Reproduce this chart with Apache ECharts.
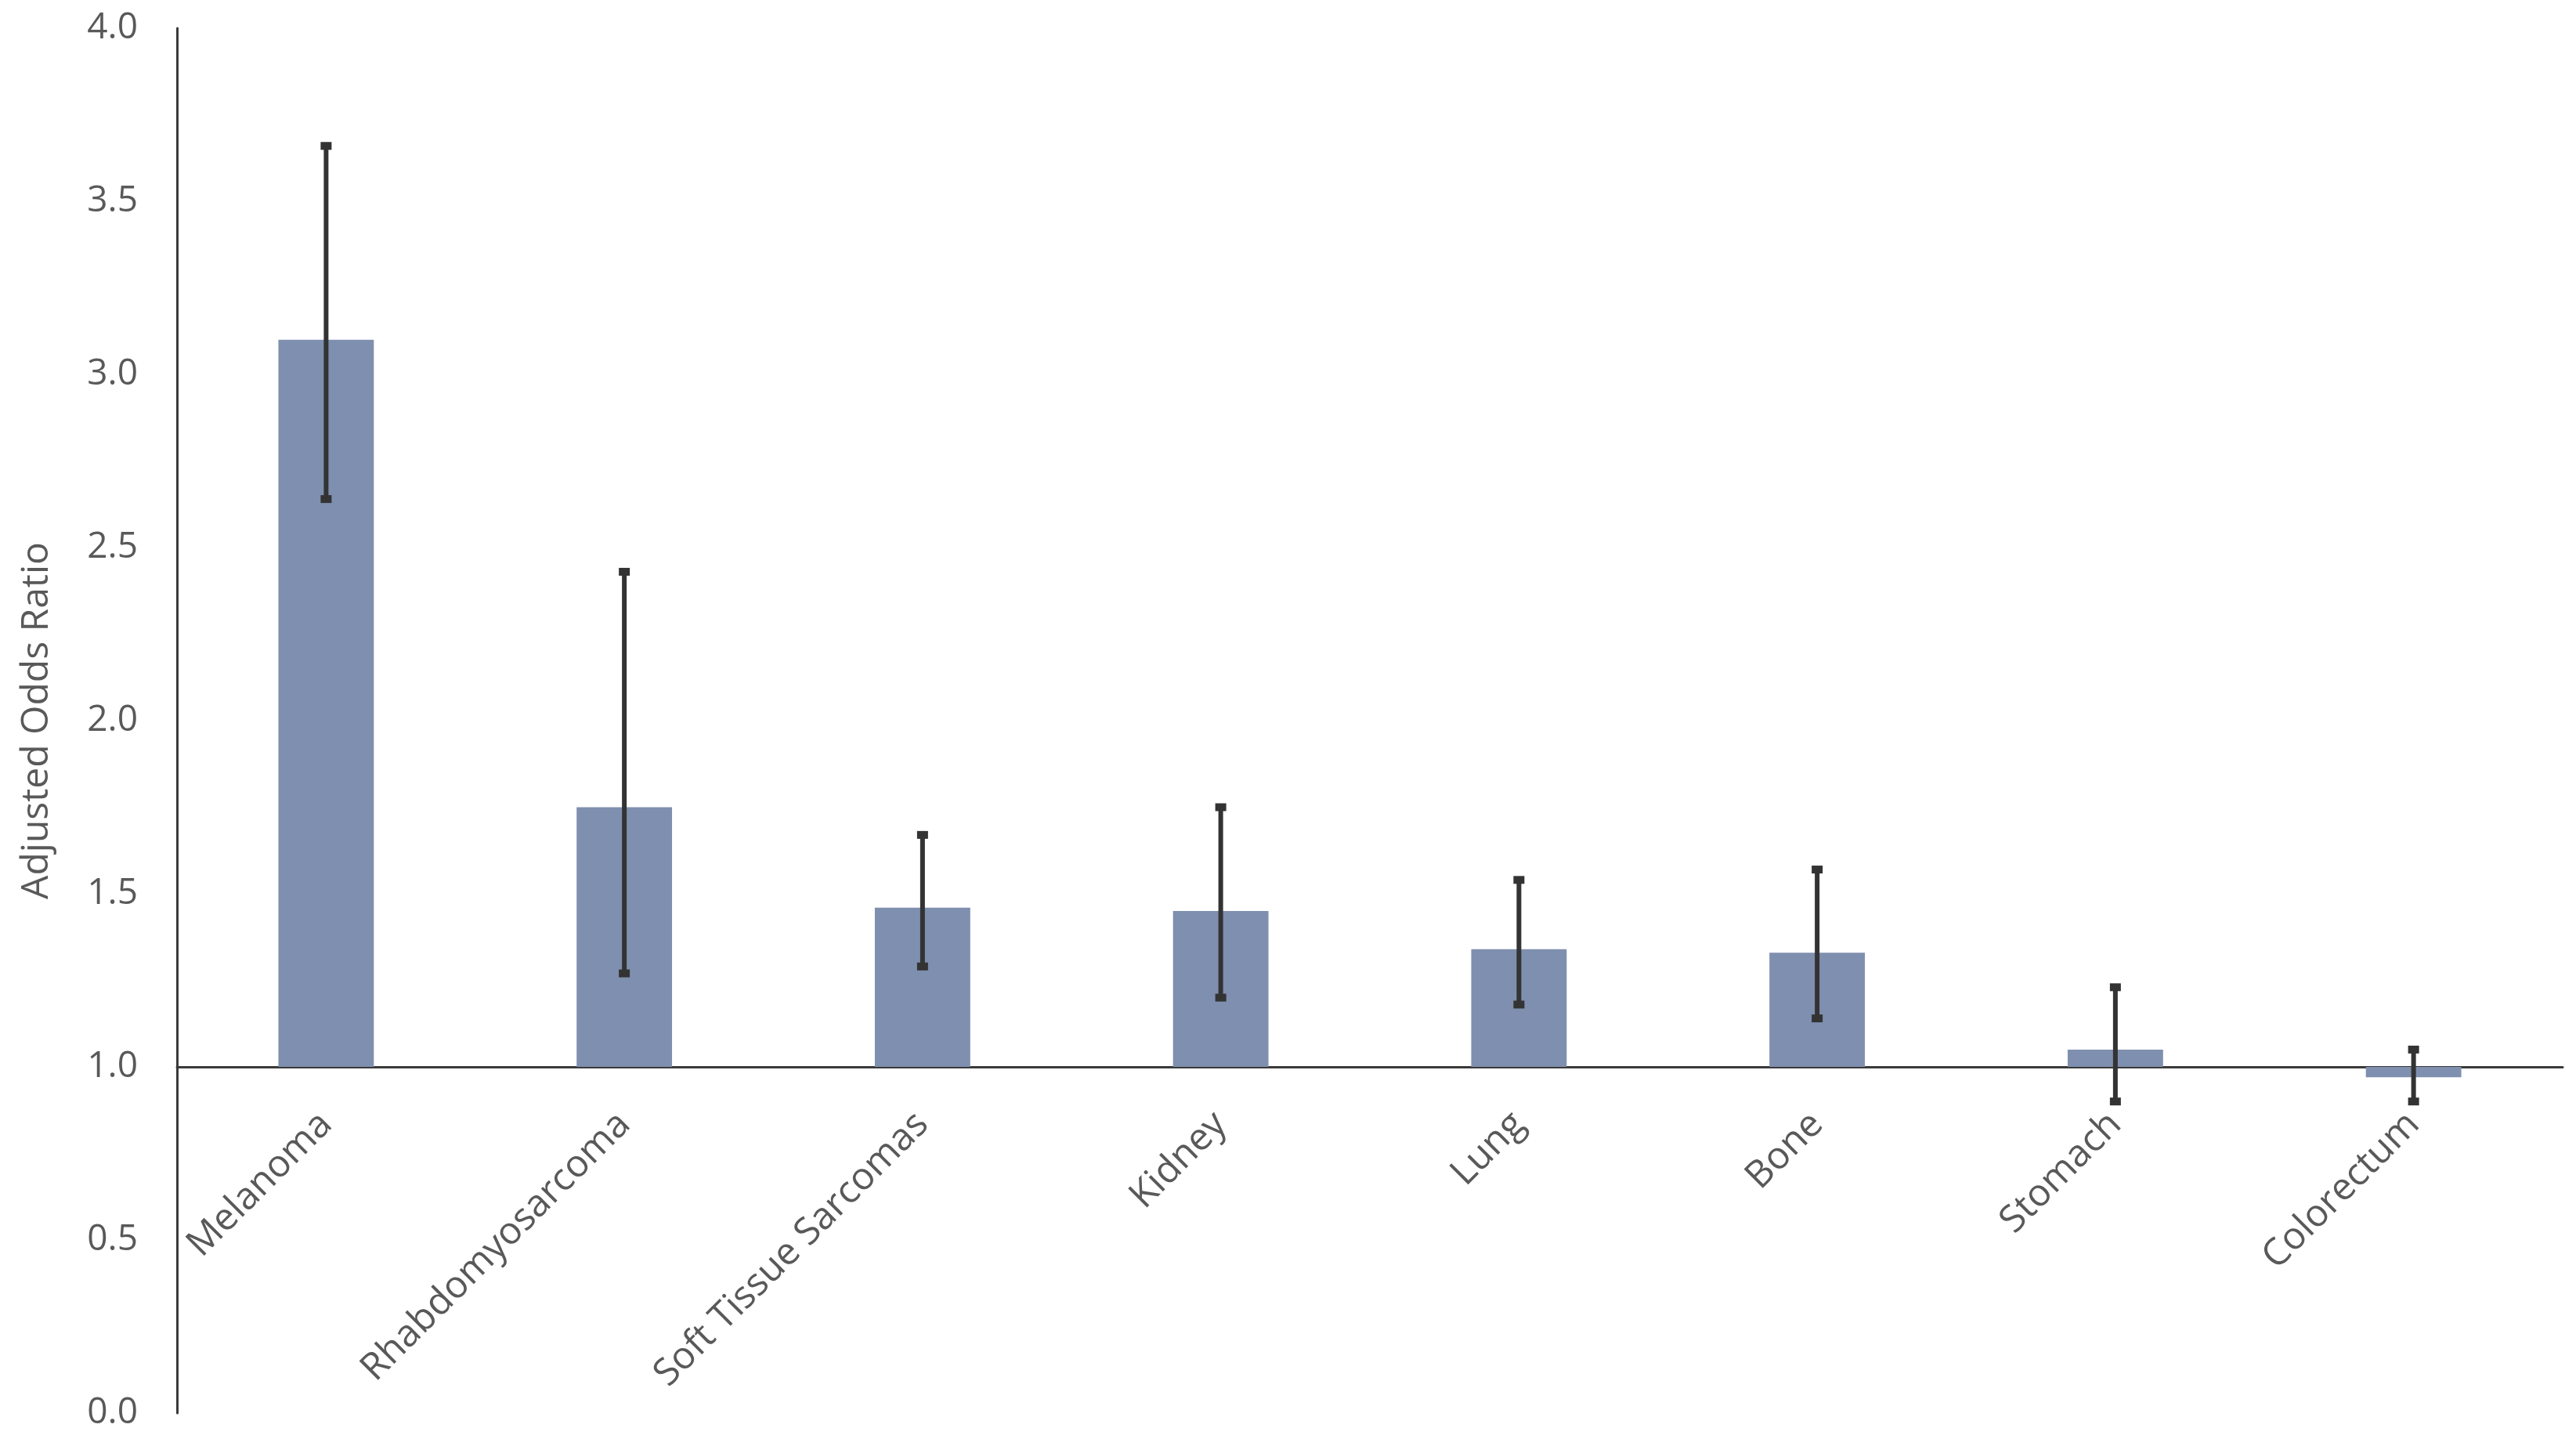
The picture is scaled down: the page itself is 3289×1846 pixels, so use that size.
<!DOCTYPE html>
<html>
<head>
<meta charset="utf-8">
<script src="https://cdn.jsdelivr.net/npm/echarts@6/dist/echarts.min.js"></script>
<style>
html,body{margin:0;padding:0;background:#fff;}
#chart{width:3289px;height:1846px;}
</style>
</head>
<body>
<div id="chart"></div>
<script>
// Data (odds ratios)
var categories = ['Melanoma', 'Rhabdomyosarcoma', 'Soft Tissue Sarcomas', 'Kidney', 'Lung', 'Bone', 'Stomach', 'Colorectum'];
var oddsRatio = [3.10, 1.75, 1.46, 1.45, 1.34, 1.33, 1.05, 0.97];
var ciLow = [2.64, 1.27, 1.29, 1.20, 1.18, 1.14, 0.90, 0.90];
var ciHigh = [3.66, 2.43, 1.67, 1.75, 1.54, 1.57, 1.23, 1.05];
var refValue = 1.0; // bars drawn from OR = 1
var yMin = 0, yMax = 4, yStep = 0.5;

var gridTop = 36, gridBottom = 42, H = 1846;
var gridH = H - gridTop - gridBottom;
var xAxisOffset = -gridH * (refValue - yMin) / (yMax - yMin);

var chart = echarts.init(document.getElementById('chart'));
var textColor = '#595959';
var font = '"Open Sans", "Noto Sans", sans-serif';

// stacked bars: transparent base up to min(v, ref), visible part spans ref..v
var baseData = oddsRatio.map(function (v) { return Math.min(v, refValue); });
var visData = oddsRatio.map(function (v) { return +Math.abs(v - refValue).toFixed(4); });
var errData = categories.map(function (c, i) { return [i, ciLow[i], ciHigh[i]]; });

chart.setOption({
  animation: false,
  backgroundColor: '#ffffff',
  grid: { left: 226, right: 17, top: gridTop, bottom: gridBottom, containLabel: false, outerBoundsMode: 'none' },
  xAxis: {
    type: 'category',
    data: categories,
    position: 'bottom',
    offset: xAxisOffset,
    axisLine: { onZero: false, lineStyle: { color: '#3a3a3a', width: 3 } },
    axisTick: { show: false },
    axisLabel: {
      rotate: 45,
      color: textColor,
      fontFamily: font,
      fontSize: 48,
      margin: 66,
      interval: 0
    }
  },
  yAxis: {
    type: 'value',
    min: yMin,
    max: yMax,
    interval: yStep,
    name: 'Adjusted Odds Ratio',
    nameLocation: 'middle',
    nameGap: 155,
    nameTextStyle: { color: textColor, fontFamily: font, fontSize: 48 },
    axisLine: { show: true, onZero: false, lineStyle: { color: '#3a3a3a', width: 3 } },
    axisTick: { show: false },
    splitLine: { show: false },
    axisLabel: {
      color: textColor,
      fontFamily: font,
      fontSize: 46,
      margin: 50,
      formatter: function (v) { return v.toFixed(1); }
    }
  },
  series: [
    {
      type: 'bar',
      stack: 'or',
      data: baseData,
      barWidth: '32%',
      itemStyle: { color: 'rgba(0,0,0,0)' },
      silent: true
    },
    {
      type: 'bar',
      stack: 'or',
      data: visData,
      barWidth: '32%',
      itemStyle: { color: '#7F8FAF' }
    },
    {
      type: 'custom',
      data: errData,
      z: 10,
      renderItem: function (params, api) {
        var x = api.value(0);
        var lo = api.coord([x, api.value(1)]);
        var hi = api.coord([x, api.value(2)]);
        var capW = 14, capH = 10;
        var style = { fill: '#333333' };
        return {
          type: 'group',
          children: [
            { type: 'line', shape: { x1: lo[0], y1: lo[1], x2: hi[0], y2: hi[1] }, style: { stroke: '#333333', lineWidth: 6 } },
            { type: 'rect', shape: { x: hi[0] - capW / 2, y: hi[1] - capH / 2, width: capW, height: capH }, style: style },
            { type: 'rect', shape: { x: lo[0] - capW / 2, y: lo[1] - capH / 2, width: capW, height: capH }, style: style }
          ]
        };
      }
    }
  ]
});
</script>
</body>
</html>
